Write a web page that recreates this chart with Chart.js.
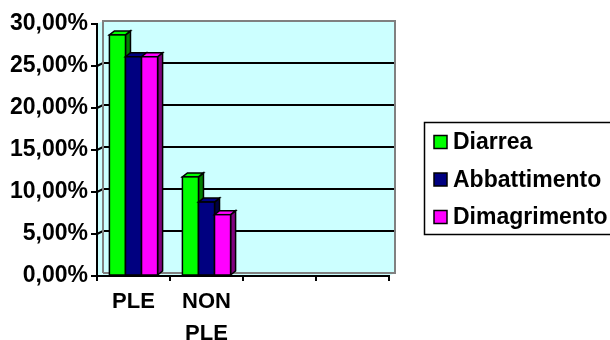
<!DOCTYPE html>
<html>
<head>
<meta charset="utf-8">
<script src="https://cdn.jsdelivr.net/npm/chart.js@4.4.0/dist/chart.umd.min.js"></script>
<style>
  html, body { margin: 0; padding: 0; background: #ffffff; }
  canvas { display: block; }
</style>
</head>
<body>
<canvas id="chart" width="610" height="340"></canvas>
<script>
const categories = ['PLE', ['NON', 'PLE'], '', ''];
const seriesNames = ['Diarrea', 'Abbattimento', 'Dimagrimento'];
const diarrea = [28.7, 11.8, null, null];
const abbattimento = [26.1, 8.8, null, null];
const dimagrimento = [26.1, 7.3, null, null];
const yTicks = [0, 5, 10, 15, 20, 25, 30];

const frontColors = ['#00FF00', '#000080', '#FF00FF'];
const sideColors = ['#008000', '#000040', '#800080'];

const FONT = 'Liberation Sans, Arial, sans-serif';
const WALL_DX = 6, WALL_DY = -3;
const BAR_DX = 5, BAR_DY = -4;

function pct(v) {
    return v.toFixed(2).replace('.', ',') + '%';
}

// walls, floor and gridlines behind the bars
const wallPlugin = {
    id: 'walls',
    beforeDraw(chart) {
        const ctx = chart.ctx;
        const a = chart.chartArea;
        const y = chart.scales.y;
        ctx.save();
        ctx.fillStyle = '#CCFFFF';
        // back wall
        ctx.fillRect(a.left + WALL_DX, a.top + WALL_DY, a.right - a.left, a.bottom - a.top);
        // left wall
        ctx.beginPath();
        ctx.moveTo(a.left, a.top);
        ctx.lineTo(a.left + WALL_DX, a.top + WALL_DY);
        ctx.lineTo(a.left + WALL_DX, a.bottom + WALL_DY);
        ctx.lineTo(a.left, a.bottom);
        ctx.closePath();
        ctx.fill();
        // floor
        ctx.beginPath();
        ctx.moveTo(a.left, a.bottom);
        ctx.lineTo(a.left + WALL_DX, a.bottom + WALL_DY);
        ctx.lineTo(a.right + WALL_DX, a.bottom + WALL_DY);
        ctx.lineTo(a.right, a.bottom);
        ctx.closePath();
        ctx.fill();

        // gridlines
        ctx.strokeStyle = '#000000';
        ctx.lineWidth = 2;
        yTicks.forEach(v => {
            if (v === 0 || v === 30) return;
            const py = y.getPixelForValue(v);
            ctx.beginPath();
            ctx.moveTo(a.left, py);
            ctx.lineTo(a.left + WALL_DX, py + WALL_DY);
            ctx.lineTo(a.right + WALL_DX, py + WALL_DY);
            ctx.stroke();
        });

        // wall edges
        ctx.strokeStyle = '#808080';
        ctx.lineWidth = 2;
        ctx.beginPath();
        ctx.moveTo(a.left + WALL_DX, a.bottom + WALL_DY);
        ctx.lineTo(a.left + WALL_DX, a.top + WALL_DY);
        ctx.lineTo(a.right + WALL_DX, a.top + WALL_DY);
        ctx.lineTo(a.right + WALL_DX, a.bottom + WALL_DY);
        ctx.lineTo(a.left + WALL_DX, a.bottom + WALL_DY);
        ctx.stroke();
        ctx.restore();
    }
};

// 3d faces of the bars, drawn left to right so the overlaps come out right
const barPlugin = {
    id: 'bars3d',
    afterDatasetsDraw(chart) {
        const ctx = chart.ctx;
        ctx.save();
        ctx.strokeStyle = '#000000';
        ctx.lineWidth = 1.5;
        chart.data.datasets.forEach((ds, i) => {
            const meta = chart.getDatasetMeta(i);
            meta.data.forEach((bar, j) => {
                if (ds.data[j] == null) return;
                const l = bar.x - bar.width / 2;
                const r = bar.x + bar.width / 2;
                const t = bar.y;
                const b = bar.base;
                // side
                ctx.fillStyle = sideColors[i];
                ctx.beginPath();
                ctx.moveTo(r, t);
                ctx.lineTo(r + BAR_DX, t + BAR_DY);
                ctx.lineTo(r + BAR_DX, b + BAR_DY);
                ctx.lineTo(r, b);
                ctx.closePath();
                ctx.fill();
                ctx.stroke();
                // top
                ctx.fillStyle = frontColors[i];
                ctx.beginPath();
                ctx.moveTo(l, t);
                ctx.lineTo(l + BAR_DX, t + BAR_DY);
                ctx.lineTo(r + BAR_DX, t + BAR_DY);
                ctx.lineTo(r, t);
                ctx.closePath();
                ctx.fill();
                ctx.stroke();
                // front
                ctx.fillRect(l, t, r - l, b - t);
                ctx.strokeRect(l, t, r - l, b - t);
            });
        });
        ctx.restore();
    }
};

const legendPlugin = {
    id: 'boxLegend',
    afterDraw(chart) {
        const ctx = chart.ctx;
        ctx.save();
        ctx.strokeStyle = '#000000';
        ctx.lineWidth = 1.5;
        ctx.strokeRect(424.5, 122.5, 200, 112);
        ctx.font = 'bold 23px ' + FONT;
        ctx.textBaseline = 'middle';
        chart.data.datasets.forEach((ds, i) => {
            const cy = 142 + i * 37.5;
            ctx.fillStyle = ds.backgroundColor;
            ctx.fillRect(434, cy - 6.5, 13, 13);
            ctx.strokeRect(434, cy - 6.5, 13, 13);
            ctx.fillStyle = '#000000';
            ctx.fillText(ds.label, 453, cy + 1);
        });
        ctx.restore();
    }
};

new Chart(document.getElementById('chart'), {
    type: 'bar',
    data: {
        labels: categories,
        datasets: [
            { label: seriesNames[0], data: diarrea, backgroundColor: frontColors[0] },
            { label: seriesNames[1], data: abbattimento, backgroundColor: frontColors[1] },
            { label: seriesNames[2], data: dimagrimento, backgroundColor: frontColors[2] }
        ]
    },
    options: {
        responsive: false,
        animation: false,
        devicePixelRatio: 1,
        layout: { padding: { top: 24, right: 221, left: 0, bottom: 0 } },
        datasets: {
            bar: {
                categoryPercentage: 0.66,
                barPercentage: 1.0,
                borderWidth: 1.5,
                borderColor: '#000000'
            }
        },
        plugins: {
            legend: { display: false },
            tooltip: { enabled: false }
        },
        scales: {
            x: {
                afterFit(scale) { scale.height = 64; },
                grid: {
                    drawOnChartArea: false,
                    tickLength: 5,
                    color: '#000000',
                    lineWidth: 2
                },
                border: { color: '#000000', width: 2 },
                ticks: {
                    color: '#000000',
                    padding: 5,
                    maxRotation: 0,
                    autoSkip: false,
                    font: { family: FONT, size: 22, weight: 'bold', lineHeight: 1.45 }
                }
            },
            y: {
                min: 0,
                max: 30,
                afterFit(scale) { scale.width = 97; },
                afterBuildTicks(scale) { scale.ticks = yTicks.map(v => ({ value: v })); },
                grid: {
                    drawOnChartArea: false,
                    tickLength: 6,
                    color: '#000000',
                    lineWidth: 2
                },
                border: { color: '#000000', width: 2 },
                ticks: {
                    color: '#000000',
                    padding: 3,
                    callback: v => pct(v),
                    font: { family: FONT, size: 23, weight: 'bold' }
                }
            }
        }
    },
    plugins: [wallPlugin, barPlugin, legendPlugin]
});
</script>
</body>
</html>
